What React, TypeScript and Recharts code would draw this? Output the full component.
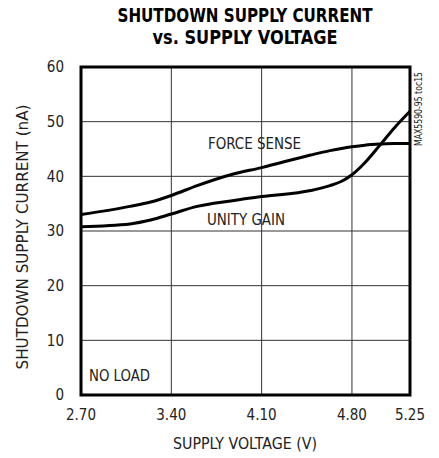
import React from "react";
import { LineChart, Line, XAxis, YAxis, CartesianGrid, ReferenceArea } from "recharts";

const voltages = [2.7, 3.08, 3.24, 3.4, 3.6, 3.86, 4.1, 4.48, 4.63, 4.72, 4.8, 4.9, 5.02, 5.13, 5.25];
const forceSense = [33.0, 34.5, 35.3, 36.5, 38.3, 40.3, 41.6, 43.9, 44.7, 45.1, 45.4, 45.7, 45.9, 46.0, 46.0];
const unityGain = [30.8, 31.3, 32.0, 33.1, 34.5, 35.5, 36.3, 37.4, 38.3, 39.1, 40.3, 42.5, 45.8, 48.9, 51.9];
const xTicks = [2.7, 3.4, 4.1, 4.8, 5.25];
const yTicks = [0, 10, 20, 30, 40, 50, 60];

const data = voltages.map((v, i) => ({ v, force: forceSense[i], unity: unityGain[i] }));

const FONT = "'Liberation Sans Narrow', 'DejaVu Sans Condensed', 'Roboto', sans-serif";

export default function App() {
  return (
    <div style={{ position: "absolute", left: 0, top: 0, width: 439, height: 458, background: "#fff" }}>
      <LineChart
        width={439}
        height={458}
        data={data}
        margin={{ top: 67, right: 29, bottom: 0, left: 0 }}
      >
        <CartesianGrid stroke="#333" strokeWidth={1} />
        <XAxis
          dataKey="v"
          type="number"
          domain={[2.7, 5.25]}
          ticks={xTicks}
          tickFormatter={(t: number) => t.toFixed(2)}
          tickLine={false}
          axisLine={false}
          tickSize={6}
          tickMargin={8}
          height={63}
          tick={{ fill: "#222", fontSize: 15, fontFamily: FONT }}
        />
        <YAxis
          type="number"
          domain={[0, 60]}
          ticks={yTicks}
          tickLine={false}
          axisLine={false}
          tickSize={6}
          tickMargin={11}
          width={81}
          tick={{ fill: "#222", fontSize: 15, fontFamily: FONT }}
        />
        <ReferenceArea x1={2.7} x2={5.25} y1={0} y2={60} fill="none" stroke="#000" strokeWidth={3} />
        <Line
          type="monotone"
          dataKey="force"
          stroke="#000"
          strokeWidth={3}
          dot={false}
          isAnimationActive={false}
        />
        <Line
          type="monotone"
          dataKey="unity"
          stroke="#000"
          strokeWidth={3}
          dot={false}
          isAnimationActive={false}
        />
      </LineChart>
      <svg
        width={439}
        height={458}
        style={{ position: "absolute", left: 0, top: 0, pointerEvents: "none" }}
      >
        <text x={245} y={22} textAnchor="middle" fontFamily={FONT} fontWeight="bold" fontSize={20} fill="#000" textLength={255} lengthAdjust="spacingAndGlyphs">
          SHUTDOWN SUPPLY CURRENT
        </text>
        <text x={245} y={44} textAnchor="middle" fontFamily={FONT} fontWeight="bold" fontSize={20} fill="#000" textLength={185} lengthAdjust="spacingAndGlyphs">
          vs. SUPPLY VOLTAGE
        </text>
        <text x={245} y={449} textAnchor="middle" fontFamily={FONT} fontSize={16} fill="#222" textLength={144} lengthAdjust="spacingAndGlyphs">
          SUPPLY VOLTAGE (V)
        </text>
        <text
          x={28}
          y={237}
          textAnchor="middle"
          fontFamily={FONT}
          fontSize={16}
          fill="#222"
          textLength={265}
          lengthAdjust="spacingAndGlyphs"
          transform="rotate(-90 28 237)"
        >
          SHUTDOWN SUPPLY CURRENT (nA)
        </text>
        <text x={208} y={149} fontFamily={FONT} fontSize={16} fill="#222" textLength={93} lengthAdjust="spacingAndGlyphs">FORCE SENSE</text>
        <text x={207} y={225} fontFamily={FONT} fontSize={16} fill="#222" textLength={78} lengthAdjust="spacingAndGlyphs">UNITY GAIN</text>
        <text x={89} y={381} fontFamily={FONT} fontSize={16} fill="#222" textLength={61} lengthAdjust="spacingAndGlyphs">NO LOAD</text>
        <text
          x={422}
          y={109}
          textAnchor="middle"
          fontFamily={FONT}
          fontSize={11}
          fill="#222"
          textLength={74}
          lengthAdjust="spacingAndGlyphs"
          transform="rotate(-90 422 109)"
        >
          MAX5590-95 toc15
        </text>
      </svg>
    </div>
  );
}
